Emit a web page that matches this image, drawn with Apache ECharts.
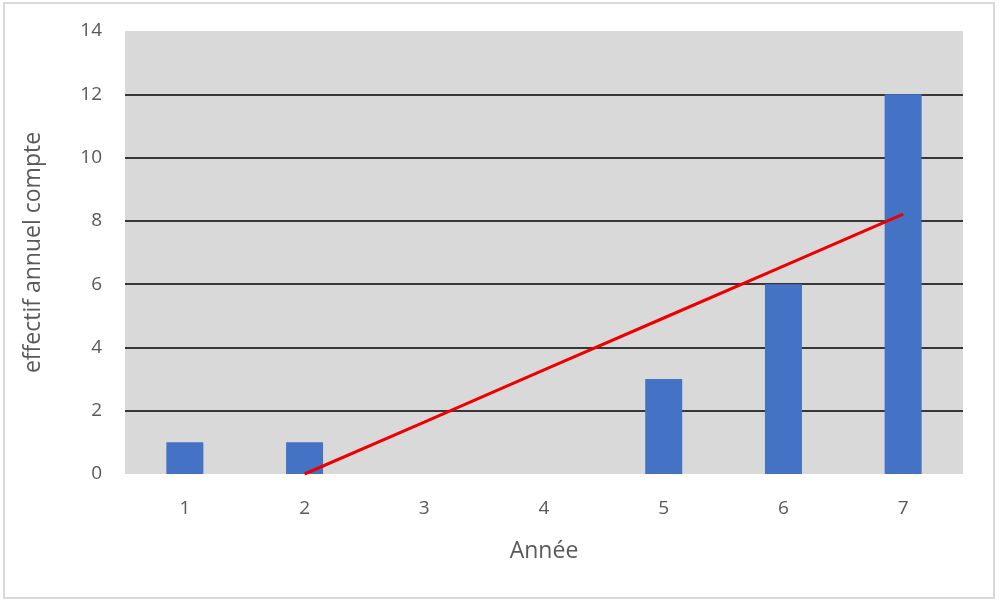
<!DOCTYPE html>
<html lang="fr">
<head>
    <meta charset="UTF-8">
    <title>effectif annuel compte</title>
    <script src="https://cdn.jsdelivr.net/npm/echarts@6/dist/echarts.min.js"></script>
    <style>
        body { margin: 0; background: #fff; }
        #chart { width: 1000px; height: 603px; }
        #frame {
            position: absolute; left: 3px; top: 2px;
            width: 988px; height: 593px;
            border: 2px solid #d9d9d9; pointer-events: none;
        }
    </style>
</head>
<body>
    <div id="chart"></div>
    <div id="frame"></div>
    <script>
        // data
        var years = ['1', '2', '3', '4', '5', '6', '7'];
        var counts = [1, 1, 0, 0, 3, 6, 12];
        // linear trend line (starts at 0 on year 2)
        var trend = [null, 0, 1.64, 3.29, 4.93, 6.57, 8.21];

        var myChart = echarts.init(document.getElementById('chart'));
        var textColor = '#595959';
        var font = 'Open Sans, sans-serif';

        var option = {
            animation: false,
            grid: {
                left: 125, right: 37, top: 31, bottom: 129,
                show: true, backgroundColor: '#d9d9d9', borderWidth: 0
            },
            xAxis: {
                type: 'category',
                data: years,
                name: 'Année',
                nameLocation: 'middle',
                nameGap: 66,
                nameTextStyle: { color: textColor, fontSize: 23, fontFamily: font },
                axisLine: { show: false },
                axisTick: { show: false },
                axisLabel: { color: textColor, fontSize: 19, fontFamily: font, margin: 25 }
            },
            yAxis: {
                type: 'value',
                min: 0, max: 14, interval: 2,
                name: 'effectif annuel compte',
                nameLocation: 'middle',
                nameGap: 80,
                nameTextStyle: { color: textColor, fontSize: 23, fontFamily: font },
                axisLine: { show: false },
                axisTick: { show: false },
                axisLabel: { color: textColor, fontSize: 19, fontFamily: font, margin: 23 },
                splitLine: {
                    lineStyle: {
                        color: ['transparent', '#000', '#000', '#000', '#000', '#000', '#000', 'transparent'],
                        width: 1.5
                    }
                }
            },
            series: [
                {
                    name: 'effectif',
                    type: 'bar',
                    data: counts,
                    barWidth: 37,
                    itemStyle: { color: '#4472c4' }
                },
                {
                    name: 'tendance',
                    type: 'line',
                    data: trend,
                    showSymbol: false,
                    lineStyle: { color: '#ee0000', width: 3 },
                    z: 5
                }
            ]
        };

        myChart.setOption(option);
    </script>
</body>
</html>
